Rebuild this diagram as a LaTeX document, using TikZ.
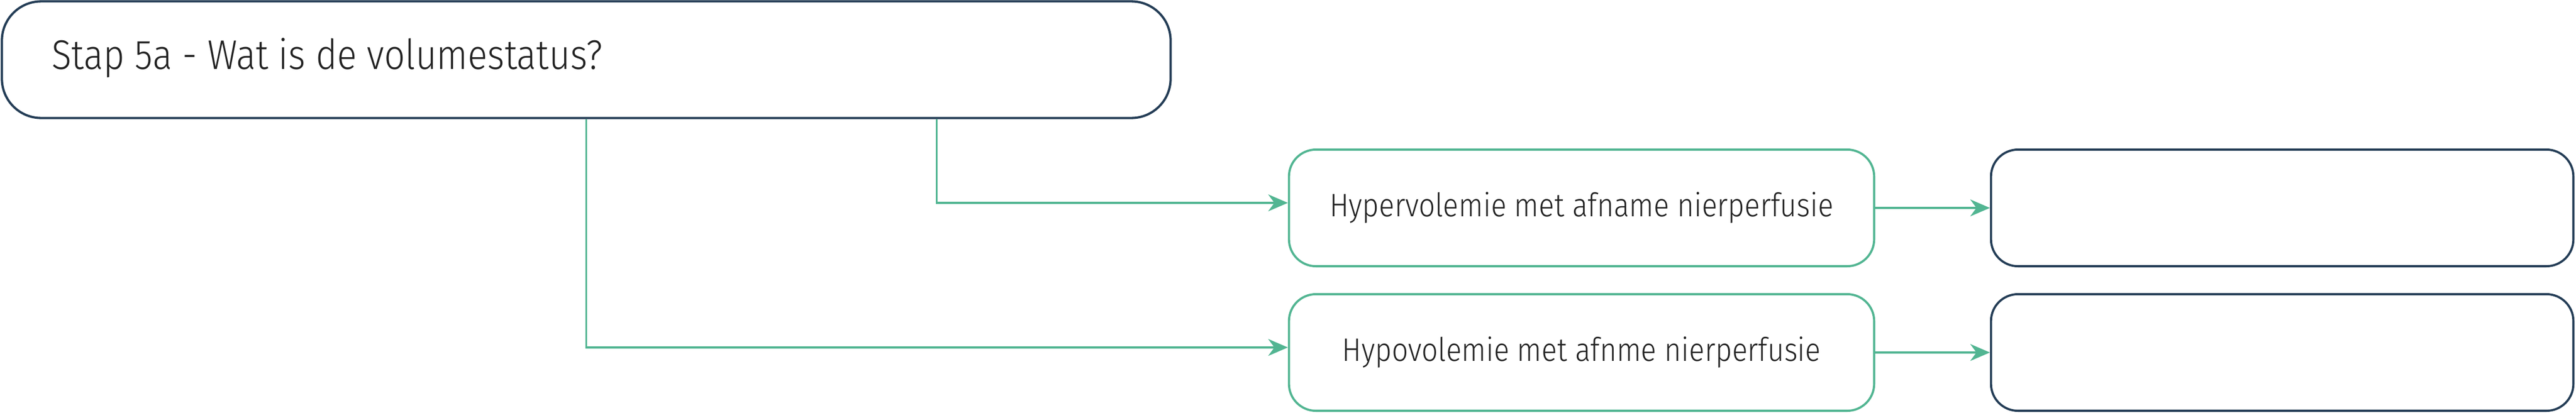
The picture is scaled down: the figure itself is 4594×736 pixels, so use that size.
\documentclass[tikz,border=0pt]{standalone}
\usepackage{fontspec}
\setmainfont{Fira Sans}[UprightFont={* Light}, FakeStretch=0.885]
\usepackage{tikz}
\usetikzlibrary{positioning}
\usetikzlibrary{arrows.meta}

\definecolor{stapgroen}{RGB}{82,181,146}
\definecolor{stapblauw}{RGB}{36,61,86}
\definecolor{tekstgrijs}{RGB}{34,34,34}

\tikzset{
	vraag/.style={draw=stapblauw, line width=1.15pt, rounded corners=0.7cm, minimum width=20.83cm, minimum height=2.08cm, text=tekstgrijs, font=\fontsize{21}{25}\selectfont},
	keuze/.style={draw=stapgroen, line width=1.1pt, rounded corners=0.48cm, minimum width=10.43cm, minimum height=2.08cm, text=tekstgrijs, font=\fontsize{16.5}{20}\selectfont},
	leeg/.style={draw=stapblauw, line width=1.1pt, rounded corners=0.48cm, minimum width=10.38cm, minimum height=2.08cm},
	pijl/.style={draw=stapgroen, line width=1pt, -{Stealth[length=3.5mm, width=3mm, inset=1.1mm]}}
}

\begin{document}
\begin{tikzpicture}[x=0.01cm, y=-0.01cm]
		%\draw[thin, gray!25] (0,0) grid[step=100] (4594,736);
		\useasboundingbox (0,0) rectangle (4594,736);
		\node[vraag] (1) at (1045.5,106.5) {};
		\node[anchor=west, text=tekstgrijs, font=\fontsize{21}{25}\selectfont] (1t) at (80,103) {Stap 5a - Wat is de volumestatus?};
		\node[keuze] (2) at (2820.5,371) {Hypervolemie met afname nierperfusie};
		\node[leeg] (3) at (4070,371) {};
		\node[keuze] (4) at (2820.5,629) {Hypovolemie met afnme nierperfusie};
		\node[leeg] (5) at (4070,629) {};
		\draw[pijl] ([xshift=6.245cm]1.south) |- ([yshift=0.09cm]2.west);
		\draw[pijl] (1.south) |- ([yshift=0.09cm]4.west);
		\draw[pijl] (2) -- (3);
		\draw[pijl] (4) -- (5);
	\end{tikzpicture}
\end{document}
